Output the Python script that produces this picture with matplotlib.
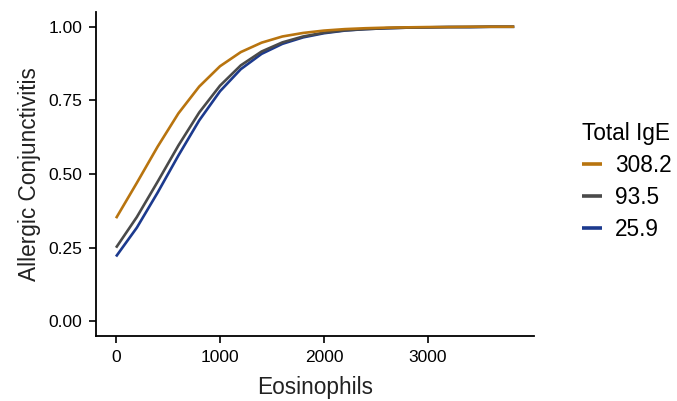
import matplotlib
matplotlib.use("Agg")
import matplotlib.pyplot as plt

plt.rcParams.update({
    "font.family": ["Liberation Sans", "DejaVu Sans"],
    "axes.spines.top": False, "axes.spines.right": False,
})

# Eosinophil count grid and predicted probabilities
eos = [0, 200, 400, 600, 800, 1000, 1200, 1400, 1600, 1800,
       2000, 2200, 2400, 2600, 2800, 3000, 3200, 3400, 3600, 3830]
ige_308 = [0.350, 0.470, 0.593, 0.706, 0.797, 0.866, 0.914, 0.946, 0.967, 0.979,
           0.987, 0.992, 0.995, 0.997, 0.998, 0.999, 0.999, 1.000, 1.000, 1.000]
ige_93 = [0.250, 0.354, 0.474, 0.597, 0.709, 0.800, 0.869, 0.916, 0.947, 0.967,
          0.980, 0.988, 0.992, 0.995, 0.997, 0.998, 0.999, 0.999, 1.000, 1.000]
ige_26 = [0.220, 0.318, 0.437, 0.563, 0.682, 0.781, 0.856, 0.908, 0.942, 0.964,
          0.978, 0.987, 0.992, 0.995, 0.997, 0.998, 0.999, 0.999, 1.000, 1.000]
labels = ["308.2", "93.5", "25.9"]
colors = ["#B8740F", "#4A4A4A", "#1C3A8E"]

fig = plt.figure(figsize=(6.77, 4.01), dpi=100)
ax = fig.add_axes([0.142, 0.162, 0.647, 0.808])

handles = []
for y, lab, c, z in zip([ige_308, ige_93, ige_26], labels, colors, [3, 2, 1]):
    h, = ax.plot(eos, y, color=c, lw=1.9, label=lab, zorder=z,
                 solid_capstyle="butt", solid_joinstyle="round")
    handles.append(h)

ax.set_xlim(-191.5, 4021.5)
ax.set_ylim(-0.05, 1.05)
ax.set_xticks([0, 1000, 2000, 3000])
ax.set_yticks([0, 0.25, 0.5, 0.75, 1.0], ["0.00", "0.25", "0.50", "0.75", "1.00"])
for s in ["left", "bottom"]:
    ax.spines[s].set_linewidth(1.3)
ax.tick_params(length=5, width=1.2, labelsize=12.5, colors="black", pad=5)
ax.set_xlabel("Eosinophils", fontsize=16.3, color="#222222", labelpad=8)
ax.set_ylabel("Allergic Conjunctivitis", fontsize=16.3, color="#222222", labelpad=5)

leg = fig.legend(handles=handles, labels=labels, title="Total IgE", frameon=False,
                 loc="upper left", bbox_to_anchor=(0.843, 0.725), fontsize=16.3,
                 title_fontsize=16.3, handlelength=0.9, handletextpad=0.55,
                 labelspacing=0.4, alignment="left", borderpad=0)
for h in leg.legend_handles:
    h.set_linewidth(2.6)

fig.savefig("out.png", dpi=100)
